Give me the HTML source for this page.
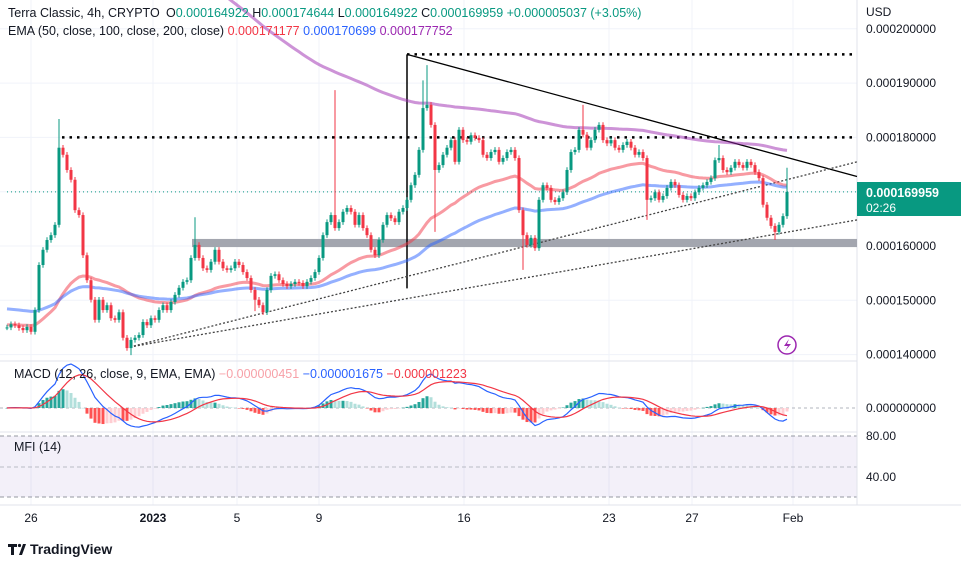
<!DOCTYPE html>
<html><head><meta charset="utf-8"><style>
html,body{margin:0;padding:0;background:#fff;}
svg{display:block;font-family:"Liberation Sans",sans-serif;}
</style></head><body>
<svg id="c" width="961" height="566" viewBox="0 0 961 566" xmlns="http://www.w3.org/2000/svg">
<g id="grid"></g>
<rect x="0" y="436" width="857" height="61" fill="#7e57c2" fill-opacity="0.09"/>
<line x1="0" y1="436" x2="857" y2="436" stroke="#9598a1" stroke-dasharray="4,3"/>
<line x1="0" y1="467" x2="857" y2="467" stroke="#9598a1" stroke-dasharray="4,3" stroke-opacity="0.6"/>
<line x1="0" y1="497" x2="857" y2="497" stroke="#9598a1" stroke-dasharray="4,3"/>
<line x1="0" y1="408" x2="857" y2="408" stroke="#b2b5be" stroke-dasharray="3,3"/>
<line x1="0" y1="361" x2="857" y2="361" stroke="#e0e3eb"/>
<line x1="0" y1="432" x2="857" y2="432" stroke="#e0e3eb"/>
<line x1="0" y1="505" x2="961" y2="505" stroke="#e0e3eb"/>
<line x1="857" y1="0" x2="857" y2="505" stroke="#e0e3eb"/>
<g id="draw"></g>
<g id="ema"></g>
<g id="candles"></g>
<g id="macd"></g>
<g id="axis" font-size="12" fill="#131722"></g>
<g id="taxis" font-size="12" fill="#131722"></g>
<g font-size="12.5">
<text x="8" y="17" fill="#131722">Terra Classic, 4h, CRYPTO</text>
<text x="166" y="17" fill="#089981"><tspan fill="#131722">O</tspan>0.000164922 <tspan fill="#131722">H</tspan>0.000174644 <tspan fill="#131722">L</tspan>0.000164922 <tspan fill="#131722">C</tspan>0.000169959 +0.000005037 (+3.05%)</text>
<text x="8" y="35" fill="#131722">EMA (50, close, 100, close, 200, close) <tspan fill="#f23645">0.000171177</tspan> <tspan fill="#2962ff">0.000170699</tspan> <tspan fill="#9c27b0">0.000177752</tspan></text>
<text x="14" y="378" fill="#131722">MACD (12, 26, close, 9, EMA, EMA) <tspan fill="#f7a1a8">−0.000000451</tspan> <tspan fill="#2962ff">−0.000001675</tspan> <tspan fill="#f23645">−0.000001223</tspan></text>
<text x="14" y="451" fill="#131722">MFI (14)</text>
</g>
<text x="866" y="16" font-size="12" fill="#131722">USD</text>
<g>
<rect x="857" y="182" width="104" height="34" fill="#089981"/>
<text x="866" y="197" font-size="12.5" font-weight="bold" fill="#fff">0.000169959</text>
<text x="866" y="212" font-size="12" fill="#fff">02:26</text>
</g>
<g>
<circle cx="787" cy="345" r="9" fill="#fff" stroke="#9c27b0" stroke-width="1.5"/>
<path d="M789 339 L784 346 L788 346 L785 351 L791 344 L787 344 Z" fill="#9c27b0"/>
</g>
<g>
<path d="M8 544 h9 v3 h-3 v8 h-3 v-8 h-3z M19 555 l4 -11 h3 l-4 11z" fill="#131722"/>
<circle cx="19.5" cy="545.5" r="1.6" fill="#131722"/>
<text x="30" y="554" font-size="14" font-weight="bold" fill="#131722">TradingView</text>
</g>
<g id="labels2" font-size="12" fill="#131722">
<text x="866" y="412">0.000000000</text>
<text x="866" y="440">80.00</text>
<text x="866" y="481">40.00</text>
</g>
</svg>
<script>
const closes=[145.0,145.6,145.4,144.9,144.5,145.1,144.2,148.2,156.5,159.3,
161.1,162.0,163.9,178.1,176.8,174.0,172.2,166.6,165.7,158.3,
153.7,150.1,146.4,150.1,148.2,149.1,146.7,146.4,147.8,143.1,
141.2,142.7,143.1,143.6,146.0,145.4,146.7,146.4,148.2,149.1,
148.2,149.7,151.0,152.3,153.4,153.7,157.8,160.2,157.8,155.9,
155.6,157.1,159.3,157.1,155.9,155.6,155.9,157.1,156.5,155.2,
154.1,151.9,150.1,149.1,147.8,151.9,154.5,154.8,153.7,153.0,
152.6,153.0,153.4,153.2,152.6,153.4,154.1,155.2,157.8,162.0,
164.4,165.7,163.3,164.4,166.3,167.0,166.3,163.9,165.7,163.3,
162.0,159.3,158.3,161.1,163.9,165.7,165.1,164.4,166.3,167.0,
168.5,171.2,173.1,177.7,185.4,186.0,182.3,174.0,174.9,176.8,
178.1,179.5,175.5,181.4,179.5,179.2,180.4,179.9,179.5,176.8,
176.2,177.3,177.7,175.5,176.2,177.3,177.7,176.2,166.6,162.0,
160.2,161.5,159.6,168.5,171.2,170.7,168.5,168.1,168.8,169.9,
174.0,177.3,177.7,181.4,180.5,178.1,179.5,181.4,182.3,179.5,
178.9,179.5,178.1,177.7,178.6,179.2,178.1,176.8,177.3,176.2,
168.5,168.8,169.9,168.5,169.2,170.7,171.8,171.2,169.4,168.5,
169.2,168.8,169.9,170.7,171.2,171.8,172.5,175.8,176.2,174.0,
173.6,174.4,175.5,174.9,174.4,175.5,174.9,173.6,172.5,167.6,
165.2,163.7,162.6,163.9,165.5,169.96];
const highSpikes={13:183.4,47:165.3,82:188.7,104:190.5,105:193.3,144:186.0,178:178.6,195:174.4};
const lowSpikes={31:139.9,62:148.0,107:162.6,129:155.6,160:164.8,192:161.1};
const priceTicks=[200,190,180,170,160,150,140];
const priceTickLabels=["0.000200000","0.000190000","0.000180000","0.000170000","0.000160000","0.000150000","0.000140000"];
const timeLabels=["26","2023","5","9","16","23","27","Feb"];
const timeLabelIdx=[6,36.5,57.5,78,114.25,150.5,171.25,196.5];
const emaPeriods=[43,85,170];
const emaSeeds=[145.5,148.5,255];
const emaColors=["#f23645","#2962ff","#9c27b0"];
const emaNames=["ema-50-line","ema-100-line","ema-200-line"];

const NS="http://www.w3.org/2000/svg";
const X=i=>7+i*4;
const Y=p=>246-(p-160)*5.43;
function mk(tag,attrs,parent){const e=document.createElementNS(NS,tag);for(const k in attrs)e.setAttribute(k,attrs[k]);parent.appendChild(e);return e;}
const G=id=>document.getElementById(id);

priceTicks.forEach((p,k)=>{
  const l=mk('line',{x1:0,x2:857,y1:Y(p),y2:Y(p),stroke:'#f0f3fa'},G('grid'));
  
  
  const t=mk('text',{x:866,y:Y(p)+4},G('axis'));t.textContent=priceTickLabels[k];
  
  
});
timeLabels.forEach((s,k)=>{
  const x=X(timeLabelIdx[k]);
  const l=mk('line',{x1:x,x2:x,y1:0,y2:505,stroke:'#f0f3fa'},G('grid'));
  
  
  const t=mk('text',{x:x,y:522,'text-anchor':'middle','font-weight':s==='2023'?'bold':'normal'},G('taxis'));t.textContent=s;
  
  
});

const D=G('draw');
function ln(i1,p1,i2,p2,st,name){const e=mk('line',Object.assign({x1:X(i1),y1:Y(p1),x2:X(i2),y2:Y(p2)},st),D);return e;}
const band=mk('rect',{x:X(46.25),y:Y(161.3),width:857-X(46.25),height:Y(159.8)-Y(161.3),fill:'#a3a6af'},D);


ln(0,169.96,212.5,169.96,{stroke:'#089981','stroke-dasharray':'1,3'},'last-price-line');
ln(13.75,180,212.5,180,{stroke:'#000','stroke-width':2.5,'stroke-dasharray':'2.5,5'},'resistance-line');
ln(100,195.3,212.5,195.3,{stroke:'#000','stroke-width':2.5,'stroke-dasharray':'2.5,5'},'top-line');
ln(100,195.3,100,152.2,{stroke:'#000','stroke-width':1.5},'vertical-line');
ln(100,195.3,212.5,172.8,{stroke:'#000','stroke-width':1.3},'descending-trendline');
ln(30.75,141.4,212.5,175.5,{stroke:'#444','stroke-width':1.3,'stroke-dasharray':'2,2'},'ascending-trendline-upper');
ln(30.75,141.4,212.5,164.8,{stroke:'#444','stroke-width':1.3,'stroke-dasharray':'2,2'},'ascending-trendline-lower');

emaPeriods.forEach((per,k)=>{
  const a=2/(per+1);let e=emaSeeds[k];let d='';
  closes.forEach((c,i)=>{e=e+a*(c-e);const y=Y(e);if(y>-5)d+=(d?'L':'M')+X(i)+' '+y.toFixed(1);});
  const p=mk('path',{d:d,fill:'none',stroke:emaColors[k],'stroke-width':3,'stroke-opacity':0.5},G('ema'));
  
  
});

closes.forEach((c,i)=>{
  const o=i?closes[i-1]:c;
  const up=c>=o;const col=up?'#089981':'#f23645';
  const hi=highSpikes[i]!==undefined?highSpikes[i]:Math.max(o,c)+0.5;
  const lo=lowSpikes[i]!==undefined?lowSpikes[i]:Math.min(o,c)-0.5;
  const g=mk('g',{},G('candles'));
  
  
  mk('line',{x1:X(i),x2:X(i),y1:Y(hi),y2:Y(lo),stroke:col,'stroke-width':1},g);
  const t=Y(Math.max(o,c)),b=Y(Math.min(o,c));
  mk('rect',{x:X(i)-1.5,y:t,width:3,height:Math.max(1,b-t),fill:col},g);
});

(function(){
  const af=2/13,as=2/27,ag=2/10;let f=closes[0],s=closes[0],sig=0;const m=[],sg=[];
  closes.forEach(c=>{f+=af*(c-f);s+=as*(c-s);const v=f-s;sig+=ag*(v-sig);m.push(v);sg.push(sig);});
  const mx=Math.max(...m.map(Math.abs),...sg.map(Math.abs));const sc=44/mx;const Z=408;
  const M=G('macd');let prev=0;
  m.forEach((v,i)=>{
    const h=v-sg[i];const col=h>=0?(h>=prev?'#26a69a':'#b2dfdb'):(h<prev?'#ff5252':'#ffcdd2');prev=h;
    const y=Z-h*sc;
    const r=mk('rect',{x:X(i)-1.5,y:Math.min(y,Z),width:3,height:Math.max(0.5,Math.abs(y-Z)),fill:col},M);
    
    
  });
  const line=(arr,col,name)=>{let d='';arr.forEach((v,i)=>{d+=(i?'L':'M')+X(i)+' '+(Z-v*sc).toFixed(1);});
    const p=mk('path',{d:d,fill:'none',stroke:col,'stroke-width':1.2},M);
    
    };
  line(m,'#2962ff','macd-line');line(sg,'#f23645','signal-line');
})();
</script>
</body></html>
